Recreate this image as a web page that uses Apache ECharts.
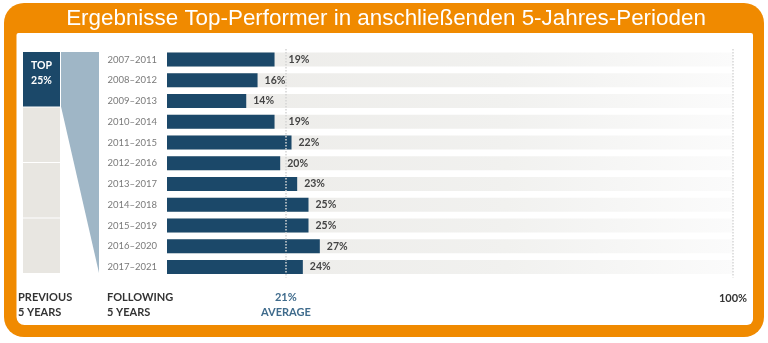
<!DOCTYPE html>
<html>
<head>
<meta charset="utf-8">
<script src="https://cdn.jsdelivr.net/npm/echarts@6/dist/echarts.min.js"></script>
<style>
  html, body { margin: 0; padding: 0; background: #ffffff; }
  #chart { width: 768px; height: 343px; }
</style>
</head>
<body>
<div id="chart"></div>
<script>
// Five-year windows and the share of top performers that stayed on top
const periods = ['2007–2011', '2008–2012', '2009–2013', '2010–2014', '2011–2015', '2012–2016',
                 '2013–2017', '2014–2018', '2015–2019', '2016–2020', '2017–2021'];
const shares = [19, 16, 14, 19, 22, 20, 23, 25, 25, 27, 24];
const averageShare = 21;
const fullScale = 100;
const xTickValues = [averageShare, fullScale];

const NAVY = '#1b4869';
const ORANGE = '#f08a00';
const FONT = 'Lato, "Open Sans", sans-serif';

const chart = echarts.init(document.getElementById('chart'), null, { renderer: 'canvas' });

const barData = shares.map(v => ({
  value: v,
  label: { distance: (v < averageShare - 1 && v > averageShare - 3) ? 14 : 7 }
}));

chart.setOption({
  animation: false,
  backgroundColor: '#ffffff',
  grid: { left: 167, right: 35, top: 49.1, bottom: 65.6 },
  xAxis: {
    type: 'value',
    min: 0,
    max: fullScale,
    splitLine: { show: false },
    axisLine: { show: false },
    axisTick: { show: false },
    axisLabel: {
      customValues: xTickValues,
      margin: 13,
      verticalAlign: 'top',
      fontFamily: FONT,
      formatter: v => v === averageShare ? '{avg|' + v + '%}\n{avg|AVERAGE}' : '{full|' + v + '%}',
      rich: {
        avg: { color: '#3f6b8c', fontWeight: 'bold', fontSize: 11, lineHeight: 15, fontFamily: FONT, align: 'center' },
        full: { color: '#333333', fontWeight: 'bold', fontSize: 11, lineHeight: 15, fontFamily: FONT, padding: [2, 0, 0, 0] }
      }
    }
  },
  yAxis: {
    type: 'category',
    data: periods,
    inverse: true,
    axisLine: { show: false },
    axisTick: { show: false },
    splitLine: { show: false },
    axisLabel: { color: '#7a7a7a', fontSize: 9.5, fontFamily: FONT, margin: 10 }
  },
  series: [
    {
      // full-scale track behind each bar
      type: 'bar',
      data: periods.map(() => fullScale),
      barWidth: 14,
      silent: true,
      itemStyle: {
        color: new echarts.graphic.LinearGradient(0, 0, 1, 0, [
          { offset: 0, color: '#ecebe8' },
          { offset: 0.6, color: '#f1f1ef' },
          { offset: 1, color: '#fbfbfb' }
        ])
      },
      markLine: {
        silent: true,
        symbol: 'none',
        label: { show: false },
        lineStyle: { color: '#d6d6d6', type: 'dotted', width: 1.5 },
        data: [{ xAxis: fullScale }]
      },
      z: 1
    },
    {
      type: 'bar',
      data: barData,
      barWidth: 14,
      barGap: '-100%',
      itemStyle: { color: NAVY },
      label: {
        show: true,
        position: 'right',
        formatter: '{c}%',
        color: '#444444',
        fontWeight: 'bold',
        fontSize: 10.5,
        fontFamily: FONT
      },
      markLine: {
        silent: true,
        symbol: 'none',
        label: { show: false },
        lineStyle: { color: '#d4d4d4', type: 'dotted', width: 1.5 },
        data: [{ xAxis: averageShare }]
      },
      z: 3
    }
  ],
  graphic: [
    // orange frame with header band
    { type: 'rect', z: -10, shape: { x: 4, y: 3, width: 760, height: 334, r: 20 }, style: { fill: ORANGE } },
    { type: 'rect', z: -9, shape: { x: 16.5, y: 33, width: 736.5, height: 292, r: [2, 2, 6, 8] }, style: { fill: '#ffffff' } },
    {
      type: 'text', z: 10, x: 386, y: 19,
      style: {
        text: 'Ergebnisse Top-Performer in anschließenden 5-Jahres-Perioden',
        fill: '#ffffff', fontSize: 22.4, fontFamily: '"Liberation Sans", Arial, sans-serif',
        align: 'center', verticalAlign: 'middle'
      }
    },
    // previous-period quartile column
    { type: 'rect', z: 5, shape: { x: 23, y: 52, width: 37, height: 54.5 }, style: { fill: NAVY } },
    { type: 'rect', z: 5, shape: { x: 23, y: 107.5, width: 37, height: 54.5 }, style: { fill: '#e8e6e1' } },
    { type: 'rect', z: 5, shape: { x: 23, y: 163, width: 37, height: 54.5 }, style: { fill: '#e8e6e1' } },
    { type: 'rect', z: 5, shape: { x: 23, y: 218.5, width: 37, height: 54.5 }, style: { fill: '#e8e6e1' } },
    {
      type: 'text', z: 6, x: 41.5, y: 73,
      style: { text: 'TOP\n25%', fill: '#ffffff', fontSize: 10.5, fontWeight: 'bold', fontFamily: FONT, lineHeight: 15, align: 'center', verticalAlign: 'middle' }
    },
    // funnel linking the top quartile to the following periods
    { type: 'polygon', z: 5, shape: { points: [[61, 52], [99, 52], [99, 273], [61, 106.5]] }, style: { fill: '#9fb6c6' } },
    // footer captions
    {
      type: 'text', z: 6, x: 18, y: 290,
      style: { text: 'PREVIOUS\n5 YEARS', fill: '#333333', fontSize: 11, fontWeight: 'bold', fontFamily: FONT, lineHeight: 15, align: 'left', verticalAlign: 'top' }
    },
    {
      type: 'text', z: 6, x: 107, y: 290,
      style: { text: 'FOLLOWING\n5 YEARS', fill: '#333333', fontSize: 11, fontWeight: 'bold', fontFamily: FONT, lineHeight: 15, align: 'left', verticalAlign: 'top' }
    }
  ]
});
</script>
</body>
</html>
